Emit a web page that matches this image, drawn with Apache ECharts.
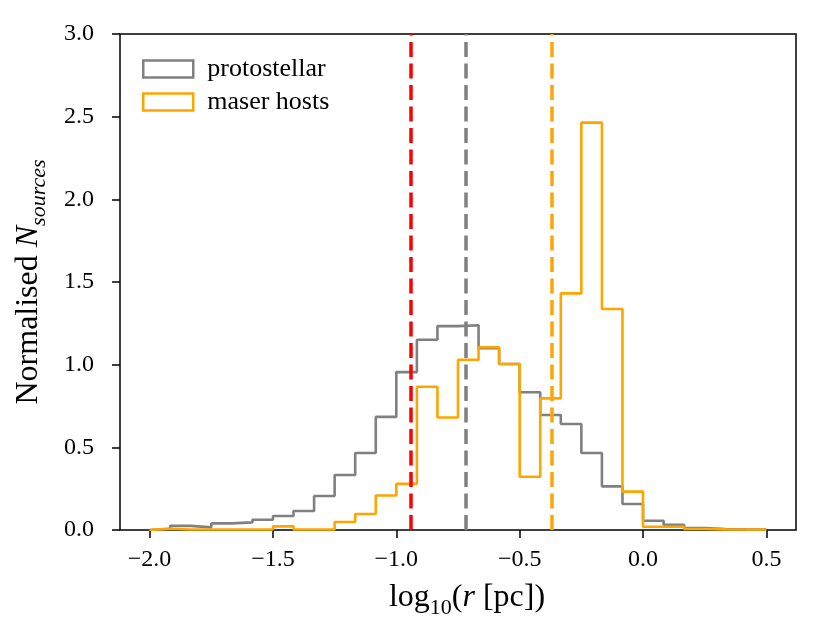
<!DOCTYPE html>
<html lang="en">
<head>
<meta charset="UTF-8">
<title>protostellar vs maser hosts</title>
<style type="text/css">
  html, body { margin: 0; padding: 0; background: #fff; }
  #chart { width: 830px; height: 639px; }
</style>
</head>
<body>
<div id="chart"></div>
<script type="text/javascript" src="https://cdn.jsdelivr.net/npm/echarts@6/dist/echarts.min.js"></script>
<script type="text/javascript">
// histogram bins: 30 bins of width 1/12 from -2.0 to 0.5
var binStart = -2.0;
var binWidth = 1 / 12;

// normalised counts
var protostellar = [0.008, 0.025, 0.016, 0.040, 0.046, 0.062, 0.085, 0.115, 0.206, 0.333,
                    0.466, 0.684, 0.955, 1.151, 1.233, 1.238, 1.100, 1.004, 0.833, 0.696,
                    0.641, 0.466, 0.264, 0.157, 0.056, 0.032, 0.012, 0.006, 0.004, 0.002];
var maserHosts   = [0.008, 0.003, 0.003, 0.003, 0.003, 0.003, 0.022, 0.003, 0.003, 0.048,
                    0.097, 0.209, 0.279, 0.866, 0.680, 1.030, 1.105, 1.004, 0.322, 0.796,
                    1.431, 2.464, 1.337, 0.232, 0.020, 0.020, 0.006, 0.004, 0.003, 0.003];

// vertical reference lines
var redLine = -0.94;
var greyLine = -0.718;
var orangeLine = -0.372;

var xTicks = [-2.0, -1.5, -1.0, -0.5, 0.0, 0.5];

var serif = 'Liberation Serif';

// turn bin heights into the outline of a step histogram
function stepOutline(values) {
    var pts = [[binStart, 0]];
    for (var i = 0; i < values.length; i++) {
        var x0 = binStart + i * binWidth;
        var x1 = binStart + (i + 1) * binWidth;
        pts.push([x0, values[i]]);
        pts.push([x1, values[i]]);
    }
    pts.push([binStart + values.length * binWidth, 0]);
    return pts;
}

function fmt(v) {
    var s = Math.abs(v).toFixed(1);
    return v < -1e-9 ? '\u2212' + s : s;
}

function vline(x, color) {
    return {
        type: 'line',
        data: [],
        silent: true,
        z: 10,
        markLine: {
            symbol: 'none',
            silent: true,
            label: { show: false },
            animation: false,
            lineStyle: { color: color, width: 3.5, type: [15, 6.5] },
            data: [{ xAxis: x }]
        }
    };
}

var myChart = echarts.init(document.getElementById('chart'));

var option = {
    animation: false,
    backgroundColor: '#fff',
    grid: {
        left: 117, top: 34, right: 34, bottom: 109,
        show: true, borderColor: '#000', borderWidth: 1.5, backgroundColor: 'transparent'
    },
    legend: {
        orient: 'vertical',
        left: 137, top: 51,
        itemWidth: 50, itemHeight: 17,
        itemGap: 7,
        textStyle: { fontFamily: serif, fontSize: 26, color: '#000', lineHeight: 26, padding: [0, 0, 0, 9] },
        data: [
            { name: 'protostellar', icon: 'rect',
              itemStyle: { color: 'rgba(0,0,0,0)', borderColor: '#808080', borderWidth: 2.5 },
              lineStyle: { width: 0, opacity: 0 } },
            { name: 'maser hosts', icon: 'rect',
              itemStyle: { color: 'rgba(0,0,0,0)', borderColor: '#FFA500', borderWidth: 2.5 },
              lineStyle: { width: 0, opacity: 0 } }
        ]
    },
    xAxis: {
        type: 'value',
        min: -2.12, max: 0.62,
        axisLine: { show: false, onZero: false },
        splitLine: { show: false },
        axisTick: { show: true, length: 8, customValues: xTicks, lineStyle: { color: '#000', width: 1.5 } },
        axisLabel: { customValues: xTicks, formatter: fmt, margin: 18,
                     fontFamily: serif, fontSize: 24, color: '#000' },
        name: 'log{sub|10}({i|r} [pc])',
        nameLocation: 'middle',
        nameGap: 47,
        nameTextStyle: {
            fontFamily: serif, fontSize: 32, color: '#000', lineHeight: 32,
            padding: [0, 0, 0, 18],
            rich: {
                sub: { fontFamily: serif, fontSize: 22, color: '#000', lineHeight: 42, verticalAlign: 'bottom' },
                i: { fontFamily: serif, fontSize: 32, fontStyle: 'italic', color: '#000', lineHeight: 32 }
            }
        }
    },
    yAxis: {
        type: 'value',
        min: 0, max: 3, interval: 0.5,
        axisLine: { show: false, onZero: false },
        splitLine: { show: false },
        axisTick: { show: true, length: 8, lineStyle: { color: '#000', width: 1.5 } },
        axisLabel: { formatter: fmt, margin: 26, fontFamily: serif, fontSize: 24, color: '#000' },
        name: 'Normalised {i|N}{sub|sources}',
        nameLocation: 'middle',
        nameGap: 70,
        nameTextStyle: {
            fontFamily: serif, fontSize: 32, color: '#000', lineHeight: 32,
            rich: {
                i: { fontFamily: serif, fontSize: 32, fontStyle: 'italic', color: '#000', lineHeight: 32 },
                sub: { fontFamily: serif, fontSize: 22, fontStyle: 'italic', color: '#000', lineHeight: 42, verticalAlign: 'bottom' }
            }
        }
    },
    series: [
        {
            name: 'protostellar',
            type: 'line',
            data: stepOutline(protostellar),
            showSymbol: false,
            symbol: 'none',
            z: 3,
            lineStyle: { color: '#808080', width: 2.6 },
            itemStyle: { color: '#808080' }
        },
        {
            name: 'maser hosts',
            type: 'line',
            data: stepOutline(maserHosts),
            showSymbol: false,
            symbol: 'none',
            z: 4,
            lineStyle: { color: '#FFA500', width: 2.6 },
            itemStyle: { color: '#FFA500' }
        },
        vline(greyLine, '#808080'),
        vline(orangeLine, '#FFA500'),
        vline(redLine, '#FF0000')
    ]
};

myChart.setOption(option);
</script>
</body>
</html>
